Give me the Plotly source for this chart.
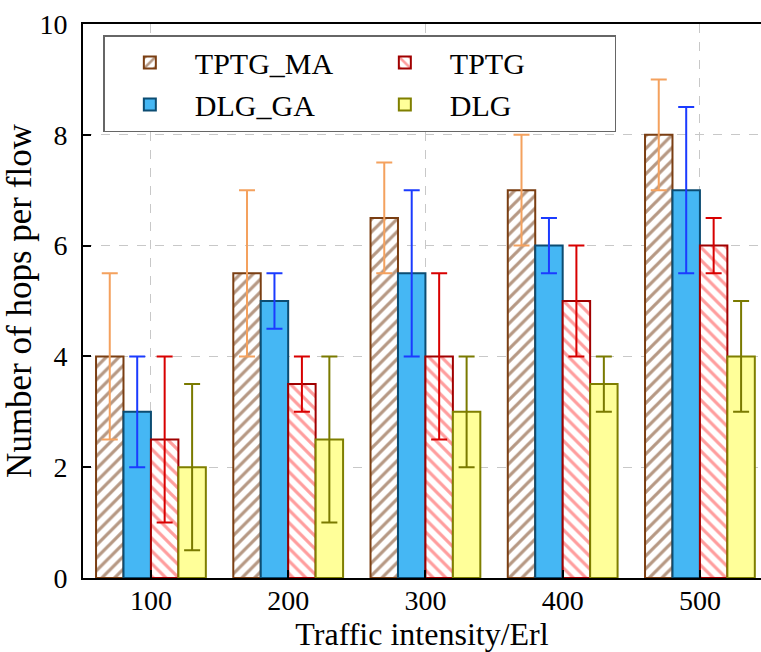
import plotly.graph_objects as go

categories = ["100", "200", "300", "400", "500"]
series_names = ["TPTG_MA", "DLG_GA", "TPTG", "DLG"]

tptg_ma = [4.0, 5.5, 6.5, 7.0, 8.0]
tptg_ma_err = [1.5, 1.5, 1.0, 1.0, 1.0]
dlg_ga = [3.0, 5.0, 5.5, 6.0, 7.0]
dlg_ga_err = [1.0, 0.5, 1.5, 0.5, 1.5]
tptg = [2.5, 3.5, 4.0, 5.0, 6.0]
tptg_err = [1.5, 0.5, 1.5, 1.0, 0.5]
dlg = [2.0, 2.5, 3.0, 3.5, 4.0]
dlg_err = [1.5, 1.5, 1.0, 0.5, 1.0]

y_ticks = [0, 2, 4, 6, 8, 10]

x_pos = list(range(len(categories)))
FONT = "Liberation Serif, Times New Roman, serif"

styles = {
    "TPTG_MA": dict(bg="white", line="#7A3E12", pat="/", fg="#6E3208", err="#F4A15E", rank=1),
    "DLG_GA": dict(bg="#45B7F4", line="#0C4C72", pat="", fg=None, err="#1B3BFF", rank=3),
    "TPTG": dict(bg="white", line="#A00000", pat="\\", fg="#FF3C3C", err="#D80000", rank=2),
    "DLG": dict(bg="#FFFF99", line="#7F7F00", pat="", fg=None, err="#7A7A00", rank=4),
}
values = {"TPTG_MA": (tptg_ma, tptg_ma_err), "DLG_GA": (dlg_ga, dlg_ga_err),
          "TPTG": (tptg, tptg_err), "DLG": (dlg, dlg_err)}

fig = go.Figure()
for name in series_names:
    s = styles[name]
    vals, errs = values[name]
    marker = dict(color=s["bg"], line=dict(color=s["line"], width=2))
    if s["pat"]:
        marker["pattern"] = dict(shape=s["pat"], fgcolor=s["fg"], bgcolor="white",
                                 size=9, solidity=0.36, fillmode="overlay")
    fig.add_trace(go.Bar(
        name=name, x=x_pos, y=vals, marker=marker, legendrank=s["rank"],
        error_y=dict(type="data", array=errs, visible=True, color=s["err"],
                     thickness=2, width=8),
    ))

fig.update_layout(
    width=761, height=652,
    margin=dict(l=83, r=0, t=24, b=74),
    paper_bgcolor="white", plot_bgcolor="white",
    barmode="group", bargap=0.2, bargroupgap=0,
    font=dict(family=FONT, color="black", size=28),
    legend=dict(orientation="h", x=0.03, y=0.98, xanchor="left", yanchor="top",
                bgcolor="white", bordercolor="#666666", borderwidth=1.5,
                font=dict(family=FONT, size=30), entrywidth=160,
                tracegroupgap=0, itemwidth=80),
)
fig.update_xaxes(
    range=[-0.495, 4.445], tickvals=x_pos, ticktext=categories,
    showline=True, linecolor="black", linewidth=2, mirror=True,
    ticks="inside", ticklen=8, tickwidth=1.5, tickcolor="black",
    showgrid=False, zeroline=False, ticklabelstandoff=-4,
    tickfont=dict(family=FONT, size=28),
    title=dict(text="Traffic intensity/Erl", font=dict(family=FONT, size=32), standoff=6),
    minor=dict(tickvals=[0, 2, 4], showgrid=True, gridcolor="#C8C8C8",
               griddash="dash", gridwidth=1, ticks=""),
)
fig.update_yaxes(
    range=[0, 10], tickvals=y_ticks,
    showline=True, linecolor="black", linewidth=2, mirror=False,
    ticks="inside", ticklen=8, tickwidth=1.5, tickcolor="black",
    showgrid=True, gridcolor="#C8C8C8", griddash="dash", gridwidth=1,
    zeroline=False, ticklabelstandoff=8,
    tickfont=dict(family=FONT, size=28),
    title=dict(text="Number of hops per flow", font=dict(family=FONT, size=35), standoff=0),
)

fig.write_html("out.html", config={"displayModeBar": False},
               post_script="document.body.style.margin='0px';")
